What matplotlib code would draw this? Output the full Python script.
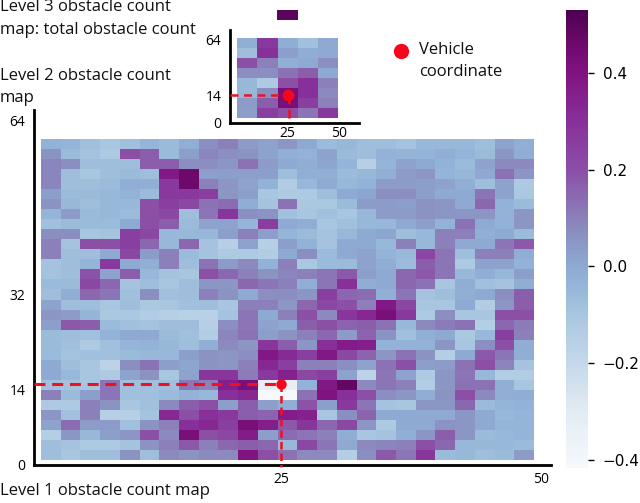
import numpy as np
import matplotlib
matplotlib.use("Agg")
import matplotlib.pyplot as plt
from matplotlib.colors import Normalize, LinearSegmentedColormap
from matplotlib.cm import ScalarMappable

level1 = np.array([
 [-.03,-.04,-.08,-.10,-.08,-.04,-.06,-.02,.07,.10,.04,.02,.05,.00,-.06,-.05,-.07,-.07,-.09,-.05,-.05,-.05,-.07,.02,-.02],
 [.06,-.06,-.09,-.12,.20,.17,-.06,.03,.09,.07,.06,.02,-.02,-.03,.02,-.06,-.07,-.03,-.04,-.04,-.02,-.04,-.06,.05,-.01],
 [.09,.07,-.07,-.07,-.07,.17,.17,.07,.07,.05,.13,.04,.00,-.01,.01,-.04,-.15,-.04,.02,.00,-.03,-.06,.02,.08,.08],
 [.09,-.07,-.10,-.07,-.06,-.07,.38,.46,.03,.03,.03,.03,-.07,-.02,-.02,-.06,-.05,-.02,.04,.05,-.04,-.05,.00,.13,.05],
 [.09,-.07,-.07,-.06,-.01,-.02,.27,.46,.10,.05,.02,-.03,-.13,-.05,.00,-.05,-.03,.04,.04,.03,.02,-.02,-.07,.02,-.12],
 [.03,-.06,-.06,-.05,-.03,-.06,.27,.27,.25,.05,.03,-.10,-.12,-.12,-.07,.00,.01,.07,.07,.03,.00,.00,.12,.02,-.11],
 [.06,-.05,-.07,-.05,-.05,.20,.25,.22,.13,.14,-.01,-.09,.13,-.11,-.11,-.06,.04,.04,.03,.06,.05,.00,.15,-.03,-.06],
 [-.04,.04,-.06,-.05,-.06,.20,.22,-.07,.12,.28,.07,.06,-.08,-.10,-.08,-.10,-.05,.04,.04,.06,.05,.05,.05,-.03,.05],
 [-.08,-.06,-.06,-.06,.00,.20,.17,-.06,.02,.02,-.04,.26,.00,-.01,-.10,-.08,-.05,-.05,.00,.03,-.03,.13,.00,-.03,.05],
 [.07,.07,-.10,-.09,.25,.22,-.05,-.05,-.05,.03,.10,.03,-.04,-.06,-.09,-.05,.00,.01,-.07,-.05,.10,.10,-.02,.00,-.06],
 [.10,-.09,.20,.20,.25,.15,-.05,.15,-.09,-.15,.02,-.15,.03,-.03,-.09,.00,.00,-.05,.10,-.05,.10,.00,.00,.12,.18],
 [.10,-.07,-.07,.00,.22,.04,.10,-.06,-.09,-.12,-.12,-.13,.00,.07,-.06,.00,.02,-.04,-.05,.23,.12,-.07,.10,.10,-.01],
 [-.09,-.07,-.04,.27,.00,-.02,.10,-.07,.13,.04,.08,-.03,.10,-.11,-.06,-.06,.02,-.01,-.06,.17,.12,-.12,.02,.02,-.03],
 [-.09,-.07,.19,.02,.17,-.05,-.09,-.10,.20,.15,.10,.06,.09,.10,.12,.18,.03,.00,.15,.18,.12,-.05,-.02,-.05,.03],
 [-.06,-.06,.22,.15,-.09,-.07,-.10,-.07,.05,.05,.15,.12,.10,-.02,.12,.30,-.01,.00,.15,.13,-.10,-.01,-.08,-.09,-.01],
 [-.07,-.01,.15,.12,-.08,.07,-.08,-.07,.10,.06,.00,.07,.07,.05,.25,.15,.14,-.02,.12,-.09,-.07,-.02,.00,.07,.17],
 [.02,-.07,-.07,-.10,-.07,-.11,-.10,-.08,-.07,-.10,.10,.10,.05,.15,.22,.20,.10,.38,.22,-.10,-.10,.00,-.13,.05,.17],
 [.05,.04,-.04,-.11,-.11,-.13,-.15,-.16,-.16,-.09,.12,.00,.10,.20,.08,.28,.33,.42,.27,-.12,.07,-.10,-.10,.20,.20],
 [.03,.18,.17,-.06,-.08,-.09,-.07,-.07,-.15,.07,.12,.02,.00,.17,.20,.16,.17,.13,-.05,.08,.11,.13,-.14,.15,.11],
 [-.06,-.07,-.08,-.03,.00,.00,-.06,-.08,-.13,.09,.13,.03,.06,.10,.15,.04,.16,.06,-.08,-.02,.00,-.11,-.05,.25,.10],
 [-.06,-.08,-.12,-.08,-.04,-.03,-.05,-.07,-.02,.08,.05,.28,.17,.05,.30,.37,.36,-.03,-.03,-.03,.05,-.10,.07,.20,-.01],
 [-.06,-.09,-.08,-.08,-.06,-.05,-.05,.03,.06,.05,.07,.38,.32,.25,.38,.22,.16,.05,.13,.06,-.14,.00,.18,.12,-.02],
 [.00,-.07,-.10,-.17,.07,.13,.03,.01,.06,.05,.10,.33,.25,.10,.10,.07,.02,.13,.20,.03,.04,.13,.20,.09,-.09],
 [.00,-.05,-.10,-.12,.02,.06,-.10,.02,.28,.28,.11,.27,.35,.22,.25,.02,-.17,.12,.02,-.12,.05,.12,-.05,-.13,-.13],
 [-.08,-.09,-.10,.12,-.08,-.08,-.08,.12,.10,.36,.42,-.33,-.33,-.03,.38,.48,.08,.12,.10,-.13,.05,.13,.13,-.02,-.10],
 [.10,-.06,.03,.12,-.08,-.08,-.06,-.03,-.05,.30,.33,-.41,-.41,.13,.40,.30,.20,.07,.05,-.01,.06,.20,.08,-.02,-.01],
 [-.12,-.12,.10,.06,-.10,-.08,.08,.17,.20,.03,.17,.03,-.02,.19,.03,.27,.12,-.09,-.10,.05,.05,.15,-.06,-.04,-.03],
 [.05,-.08,.10,-.15,-.15,-.09,.33,.20,.30,.27,.17,.16,.37,.35,-.10,.07,.16,.00,.00,.00,.00,.05,.00,-.05,-.04],
 [.02,.14,.04,.04,-.08,.06,.10,.30,.33,.25,.42,.36,.18,.28,.15,.22,.05,-.12,.00,.00,.06,.05,.00,-.04,-.04],
 [-.14,.05,-.05,.03,.05,.20,.08,.42,.20,.22,.37,.03,.14,.12,.10,-.01,-.10,-.09,-.02,.05,.17,.05,-.06,-.05,-.04],
 [-.07,-.09,-.12,-.12,-.09,.06,.10,.18,.10,.15,.17,.15,-.05,.22,.12,.00,.08,.09,.10,.20,.15,-.05,-.05,-.05,-.06],
 [-.07,-.10,-.07,-.07,.06,-.07,.08,.06,.08,.08,.40,.20,.13,.08,.08,-.14,.07,.18,.12,.28,-.06,-.05,-.07,-.06,.04],
])
level2 = np.array([
 [-.02,.27,-.01,-.08,.00],
 [-.07,.30,.03,-.01,.00],
 [.20,.10,-.02,.00,.07],
 [.07,.07,.13,.17,.00],
 [-.05,-.12,.20,.30,.10],
 [-.05,.07,.42,.30,.08],
 [.04,.17,.42,.25,.10],
 [.03,.25,.20,.12,.27],
])
level3 = np.array([[.50]])
cbar_ticks = [-0.4, -0.2, 0.0, 0.2, 0.4]
main_y_labels = ["0", "14", "32", "64"]
main_x_labels = ["25", "50"]
small_y_labels = ["0", "14", "64"]
small_x_labels = ["25", "50"]

W, H = 640, 503
FONT = "Open Sans"
TS = 12
fig = plt.figure(figsize=(W/100, H/100), dpi=100)

def axpx(l, t, r, b, **kw):
    return fig.add_axes([l/W, 1-b/H, (r-l)/W, (b-t)/H], **kw)

VMIN, VMAX = -0.4165, 0.53
norm = Normalize(VMIN, VMAX)
anchor_values = [VMIN, -0.3, -0.2, -0.1, -0.04, 0.0, 0.055, 0.1, 0.2, 0.3, 0.4, 0.45, VMAX]
anchor_colors = ["#f6f9fc", "#e2ebf3", "#c4d8ea", "#a8c6e0", "#94b5d8", "#8eaad2", "#8b95c4",
                 "#8b80ba", "#8b4fa6", "#88309a", "#811380", "#720b70", "#4d0050"]
cmap = LinearSegmentedColormap.from_list(
    "ref_bupu",
    [((v-VMIN)/(VMAX-VMIN), c) for v, c in zip(anchor_values, anchor_colors)], N=256)

def map_axes(l, t, r, b, x0, y0, cw, ch, data):
    ax = axpx(l, t, r, b)
    ax.set_xlim((l-x0)/cw, (r-x0)/cw)
    ax.set_ylim((y0-b)/ch, (y0-t)/ch)
    nr, nc = data.shape
    ax.pcolormesh(np.arange(nc+1), np.arange(nr+1), data[::-1], cmap=cmap, norm=norm,
                  linewidth=0, rasterized=True)
    ax.patch.set_alpha(0)
    for s in ("top", "right"):
        ax.spines[s].set_visible(False)
    for s in ("left", "bottom"):
        ax.spines[s].set_linewidth(2)
    ax.tick_params(length=0)
    return ax

def set_ticks(ax, xp, xl, yp, yl, pady, padx):
    ax.set_xticks(xp, xl, fontfamily=FONT, fontsize=10)
    ax.set_yticks(yp, yl, fontfamily=FONT, fontsize=10)
    ax.tick_params(axis="x", pad=padx)
    ax.tick_params(axis="y", pad=pady)

# Level 1 map
ax1 = map_axes(33.5, 110, 551, 465, 41, 460, 19.72, 10.03, level1)
set_ticks(ax1, [12.17, 25.36], main_x_labels, [-0.5, 7.0, 16.45, 33.8], main_y_labels, 6, 5)
vx, vy = 12.17, 7.57
ax1.plot([ax1.get_xlim()[0], vx], [vy, vy], color="#f01020", ls=(0, (3.6, 2.2)), lw=2.2, zorder=4)
ax1.plot([vx, vx], [vy, -0.7], color="#f01020", ls=(0, (3, 1.6)), lw=1.8, zorder=4, clip_on=False)
ax1.plot([vx], [vy], "o", color="#f5061a", ms=7.5, mew=0, zorder=5)

# Level 2 map
ax2 = map_axes(229.5, 30, 359, 123, 237.4, 119, 20.06, 10.15, level2)
set_ticks(ax2, [2.5, 5.05], small_x_labels, [-0.45, 2.3, 7.8], small_y_labels, 6, 2)
vx2, vy2 = 2.5, 2.3
ax2.plot([ax2.get_xlim()[0], vx2], [vy2, vy2], color="#f01020", ls=(0, (3.2, 2.2)), lw=1.8, zorder=4)
ax2.plot([vx2+0.08, vx2+0.08], [vy2, -0.4], color="#f01020", ls=(0, (3.5, 2.2)), lw=1.8, zorder=4)
ax2.plot([vx2], [vy2], "o", color="#f5061a", ms=8.5, mew=0, zorder=5)

# Level 3 map (a single cell)
ax3 = axpx(277, 10, 298, 20)
ax3.pcolormesh(level3, cmap=cmap, norm=norm)
ax3.axis("off")

# Legend dot
axl = axpx(390, 40, 412, 62)
axl.set_xlim(-1, 1); axl.set_ylim(-1, 1); axl.axis("off")
axl.plot([0], [0], "o", color="#f5061a", ms=11, mew=0)

# Colorbar
cax = axpx(566, 10, 588, 468)
cb = fig.colorbar(ScalarMappable(norm=norm, cmap=cmap), cax=cax, ticks=cbar_ticks)
cb.outline.set_visible(False)
cb.ax.tick_params(length=4.5, width=1, labelsize=11, pad=6)

# Captions
def cap(x, y, s):
    fig.text(x/W, 1-y/H, s, family=FONT, fontsize=TS, va="center", ha="left", color="#111111")

cap(0, 7, "Level 3 obstacle count")
cap(0, 30, "map: total obstacle count")
cap(0, 76, "Level 2 obstacle count")
cap(0, 98, "map")
cap(0, 491, "Level 1 obstacle count map")
cap(419, 50, "Vehicle")
cap(419, 72, "coordinate")

fig.savefig("out.png", dpi=100)
